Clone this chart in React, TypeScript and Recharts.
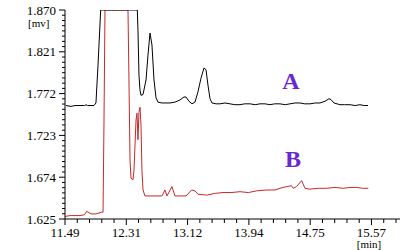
import React from "react";
import { LineChart, Line, XAxis, YAxis } from "recharts";

// trace A (black) - retention time [min] / signal [mv]
const timeA = [
  11.503, 11.57, 11.623, 11.69, 11.75, 11.769, 11.79, 11.836, 11.876, 11.902, 11.929, 11.965,
  12.452, 12.461, 12.474, 12.488, 12.501, 12.528, 12.568, 12.594, 12.621, 12.647, 12.674, 12.701,
  12.727, 12.78, 12.82, 12.887, 12.953, 13.02, 13.073, 13.1, 13.14, 13.179, 13.219, 13.259, 13.299,
  13.339, 13.366, 13.392, 13.419, 13.446, 13.5, 13.552, 13.62, 13.685, 13.75, 13.818, 13.88, 13.951,
  14.02, 14.084, 14.15, 14.217, 14.28, 14.35, 14.42, 14.483, 14.55, 14.616, 14.68, 14.749, 14.82,
  14.882, 14.949, 15.002, 15.029, 15.069, 15.148, 15.21, 15.281, 15.35, 15.414, 15.47, 15.521,
];
const mvA = [
  1.758, 1.757, 1.758, 1.758, 1.758, 1.759, 1.758, 1.758, 1.758, 1.761, 1.805, 1.87,
  1.87, 1.846, 1.794, 1.776, 1.77, 1.771, 1.788, 1.817, 1.843, 1.829, 1.788, 1.767,
  1.762, 1.761, 1.761, 1.761, 1.762, 1.7645, 1.768, 1.768, 1.763, 1.76, 1.762, 1.774, 1.79,
  1.802, 1.8, 1.782, 1.766, 1.761, 1.76, 1.76, 1.761, 1.76, 1.759, 1.759, 1.76, 1.76,
  1.759, 1.76, 1.76, 1.759, 1.76, 1.76, 1.759, 1.76, 1.761, 1.761, 1.76, 1.76, 1.761,
  1.761, 1.763, 1.766, 1.765, 1.761, 1.759, 1.759, 1.759, 1.758, 1.759, 1.758, 1.758,
];

// trace B (red)
const timeB = [
  11.49, 11.557, 11.623, 11.69, 11.75, 11.779, 11.836, 11.902, 11.978, 11.996, 12.009, 12.022,
  12.328, 12.341, 12.355, 12.368, 12.395, 12.408, 12.435, 12.448, 12.461, 12.474, 12.488, 12.501,
  12.514, 12.528, 12.554, 12.647, 12.78, 12.82, 12.847, 12.913, 12.953, 12.993, 13.1, 13.175,
  13.219, 13.259, 13.375, 13.48, 13.592, 13.7, 13.818, 13.93, 14.04, 14.173, 14.284, 14.35,
  14.439, 14.505, 14.527, 14.571, 14.638, 14.683, 14.749, 14.86, 14.971, 15.08, 15.192, 15.28,
  15.37, 15.45, 15.525,
];
const mvB = [
  1.628, 1.629, 1.629, 1.629, 1.63, 1.634, 1.631, 1.631, 1.633, 1.633, 1.741, 1.87,
  1.87, 1.788, 1.694, 1.673, 1.671, 1.682, 1.741, 1.749, 1.718, 1.75, 1.756, 1.735,
  1.682, 1.659, 1.652, 1.652, 1.652, 1.659, 1.652, 1.663, 1.652, 1.652, 1.652, 1.659,
  1.658, 1.654, 1.653, 1.655, 1.656, 1.656, 1.657, 1.656, 1.658, 1.659, 1.659, 1.661,
  1.663, 1.664, 1.661, 1.663, 1.67, 1.661, 1.66, 1.661, 1.661, 1.662, 1.661, 1.662,
  1.662, 1.661, 1.661,
];

const xMajorTicks = [11.49, 12.3055, 13.121, 13.9365, 14.752, 15.5675];
const xTickLabels = ["11.49", "12.31", "13.12", "13.94", "14.75", "15.57"];
const yMajorTicks = [1.625, 1.674, 1.723, 1.772, 1.821, 1.87];
const yTickLabels = ["1.625", "1.674", "1.723", "1.772", "1.821", "1.870"];
const seriesNames = ["A", "B"];

const X_MIN = 11.49;
const X_MAX = 15.947;
const Y_MIN = 1.625;
const Y_MAX = 1.87;

const dataA = timeA.map((t, i) => ({ t, v: mvA[i] }));
const dataB = timeB.map((t, i) => ({ t, v: mvB[i] }));

// minor ticks: 5 per x interval, 8 per y interval
const xStep = (xMajorTicks[1] - xMajorTicks[0]) / 5;
const xTicks: number[] = [];
for (let v = X_MIN; v <= X_MAX + 1e-9; v += xStep) xTicks.push(+v.toFixed(5));
const yStep = (yMajorTicks[1] - yMajorTicks[0]) / 8;
const yTicks: number[] = [];
for (let v = Y_MIN; v <= Y_MAX + 1e-9; v += yStep) yTicks.push(+v.toFixed(5));

const FONT = "'Liberation Serif', serif";

const majorIndex = (list: number[], value: number) =>
  list.findIndex((m) => Math.abs(m - value) < 1e-4);

function XTick(props: any) {
  const { x, y, payload } = props;
  const idx = majorIndex(xMajorTicks, payload.value);
  return (
    <g>
      <line x1={x} y1={y} x2={x} y2={y + (idx >= 0 ? 6 : 4)} stroke="#000" />
      {idx >= 0 && (
        <text x={x} y={y + 13} textAnchor="middle" dominantBaseline="central"
          fontFamily={FONT} fontSize={13} fill="#000">
          {xTickLabels[idx]}
        </text>
      )}
    </g>
  );
}

function YTick(props: any) {
  const { x, y, payload } = props;
  const idx = majorIndex(yMajorTicks, payload.value);
  return (
    <g>
      <line x1={x} y1={y} x2={x - (idx >= 0 ? 6 : 3)} y2={y} stroke="#000" />
      {idx >= 0 && (
        <text x={x - 9} y={y} textAnchor="end" dominantBaseline="central"
          fontFamily={FONT} fontSize={13} fill="#000">
          {yTickLabels[idx]}
        </text>
      )}
    </g>
  );
}

export default function App() {
  return (
    <div style={{ position: "absolute", left: 0, top: 0, width: 400, height: 250, background: "#fff" }}>
      <LineChart width={400} height={250} margin={{ top: 10, right: 0, bottom: 0, left: 0 }}>
        <XAxis
          dataKey="t"
          type="number"
          domain={[X_MIN, X_MAX]}
          ticks={xTicks}
          interval={0}
          tick={<XTick />}
          tickLine={false}
          tickSize={0}
          tickMargin={0}
          height={31}
          axisLine={{ stroke: "#000" }}
          allowDataOverflow
        />
        <YAxis
          type="number"
          domain={[Y_MIN, Y_MAX]}
          ticks={yTicks}
          interval={0}
          tick={<YTick />}
          tickLine={false}
          tickSize={0}
          tickMargin={0}
          width={65}
          axisLine={{ stroke: "#000" }}
          allowDataOverflow
        />
        <Line data={dataB} dataKey="v" type="linear" stroke="#c82828" strokeWidth={1}
          dot={false} isAnimationActive={false} />
        <Line data={dataA} dataKey="v" type="linear" stroke="#000" strokeWidth={1}
          dot={false} isAnimationActive={false} />
      </LineChart>
      <svg width={400} height={250} style={{ position: "absolute", left: 0, top: 0, pointerEvents: "none" }}>
        <text x={28} y={27} fontFamily={FONT} fontSize={11} fill="#000">[mv]</text>
        <text x={369} y={248} textAnchor="middle" fontFamily={FONT} fontSize={11} fill="#000">[min]</text>
        <text x={291} y={89} textAnchor="middle" fontFamily={FONT} fontSize={24} fontWeight="bold" fill="#6a28d0">
          {seriesNames[0]}
        </text>
        <text x={293} y={167} textAnchor="middle" fontFamily={FONT} fontSize={24} fontWeight="bold" fill="#6a28d0">
          {seriesNames[1]}
        </text>
      </svg>
    </div>
  );
}
